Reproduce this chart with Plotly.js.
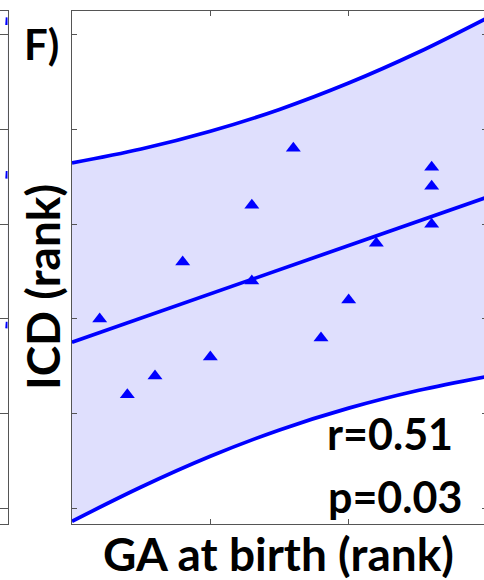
<!DOCTYPE html>
<html>
<head>
<meta charset="utf-8">
<script src="https://cdn.plot.ly/plotly-3.0.1.min.js"></script>
<style>
html,body{margin:0;padding:0;overflow:hidden;background:#fff;}
#chart{width:487px;height:580px;}
</style>
</head>
<body>
<div id="chart"></div>
<script>
// ---- data (ranks) ----
const gaRank  = [1, 2, 3, 4, 5, 6.5, 6.5, 8, 9, 10, 11, 13, 13, 13];
const icdRank = [5, 1, 2, 8, 3, 11, 7, 14, 4, 6, 9, 13, 12, 10];

// regression line (read at the two ends of the axis)
const fitX = [0, 15];
const fitY = [3.78, 11.42];

// prediction band
const bandX     = [0, 2.5, 5, 7.5, 10, 12.5, 15];
const bandUpper = [13.23, 13.96, 14.90, 16.05, 17.44, 19.05, 20.87];
const bandLower = [-5.67, -3.86, -2.24, -0.85, 0.30, 1.23, 1.97];

// sliver of the neighbouring panel (E) at the left edge
const prevX     = [0, 1];
const prevUpper = [20.5, 20.9];
const prevFit   = [12.4, 12.8];
const prevLower = [4.5, 4.85];

const tickVals = [-5, 0, 5, 10, 15, 20];
const xTickVals = [0, 5, 10, 15];

const panelLabel = 'F)';
const xLabel = 'GA at birth (rank)';
const yLabel = 'ICD (rank)';
const statR = 'r=0.51';
const statP = 'p=0.03';

// ---- styling ----
const W = 487, H = 580;
const mT = 11, mB = 56;
const plotL = 72;
const blue = '#0000ff';
const bandFill = 'rgba(0,0,240,0.125)';
const axCol = '#555555';
const FONT = 'Lato, "Open Sans", sans-serif';

function px(x){ return x / W; }
function py(y){ return (H - mB - y) / (H - mT - mB); }

const yRange = [-5.81, 21.24];

const traces = [
  // neighbouring panel sliver
  {x: prevX, y: prevLower, xaxis:'x2', yaxis:'y2', mode:'lines',
   line:{color:blue, width:3.5}, hoverinfo:'skip', showlegend:false},
  {x: prevX, y: prevUpper, xaxis:'x2', yaxis:'y2', mode:'lines', fill:'tonexty',
   fillcolor: bandFill, line:{color:blue, width:3.5}, hoverinfo:'skip', showlegend:false},
  {x: prevX, y: prevFit, xaxis:'x2', yaxis:'y2', mode:'lines',
   line:{color:blue, width:3.5}, hoverinfo:'skip', showlegend:false},
  // main panel
  {x: bandX, y: bandLower, mode:'lines', line:{color:blue, width:3.7, shape:'spline'},
   hoverinfo:'skip', showlegend:false},
  {x: bandX, y: bandUpper, mode:'lines', fill:'tonexty', fillcolor: bandFill,
   line:{color:blue, width:3.7, shape:'spline'}, hoverinfo:'skip', showlegend:false},
  {x: fitX, y: fitY, mode:'lines', line:{color:blue, width:3.7}, showlegend:false},
  {x: gaRank, y: icdRank, mode:'markers', cliponaxis:false,
   marker:{symbol:'triangle-up', size:13, color:blue, line:{width:0}}, showlegend:false}
];

const axisCommon = {
  showgrid:false, zeroline:false, showline:true, linecolor:axCol, linewidth:1,
  mirror:'ticks', ticks:'inside', ticklen:5, tickcolor:axCol, tickwidth:1,
  showticklabels:false, fixedrange:true
};

const layout = {
  width: W, height: H,
  margin: {l:0, r:0, t:mT, b:mB, pad:0},
  paper_bgcolor:'#ffffff', plot_bgcolor:'rgba(0,0,0,0)',
  showlegend:false,
  xaxis: Object.assign({}, axisCommon, {domain:[plotL/W, 1], range:[0,15], tickvals:xTickVals, anchor:'y'}),
  yaxis: Object.assign({}, axisCommon, {range:yRange, tickvals:tickVals, anchor:'x'}),
  xaxis2: Object.assign({}, axisCommon, {domain:[0, 7.5/W], range:[-14,1], tickvals:[], anchor:'y2'}),
  yaxis2: Object.assign({}, axisCommon, {range:yRange, tickvals:tickVals, anchor:'x2'}),
  annotations: [
    {text:panelLabel, xref:'paper', yref:'paper', x:px(41), y:py(44), xanchor:'center', yanchor:'middle',
     showarrow:false, font:{family:FONT, size:42, color:'#000', weight:700}},
    {text:yLabel, xref:'paper', yref:'paper', x:px(42), y:py(287), xanchor:'center', yanchor:'middle',
     textangle:-90, showarrow:false, font:{family:FONT, size:46, color:'#000', weight:700}},
    {text:xLabel, xref:'paper', yref:'paper', x:px(278), y:py(554), xanchor:'center', yanchor:'middle',
     showarrow:false, font:{family:FONT, size:46, color:'#000', weight:700}},
    {text:statR, xref:'paper', yref:'paper', x:px(390), y:py(433), xanchor:'center', yanchor:'middle',
     showarrow:false, font:{family:FONT, size:43, color:'#000', weight:700}},
    {text:statP, xref:'paper', yref:'paper', x:px(395), y:py(496), xanchor:'center', yanchor:'middle',
     showarrow:false, font:{family:FONT, size:43, color:'#000', weight:700}}
  ]
};

Plotly.newPlot('chart', traces, layout, {displayModeBar:false, staticPlot:true});
</script>
</body>
</html>
